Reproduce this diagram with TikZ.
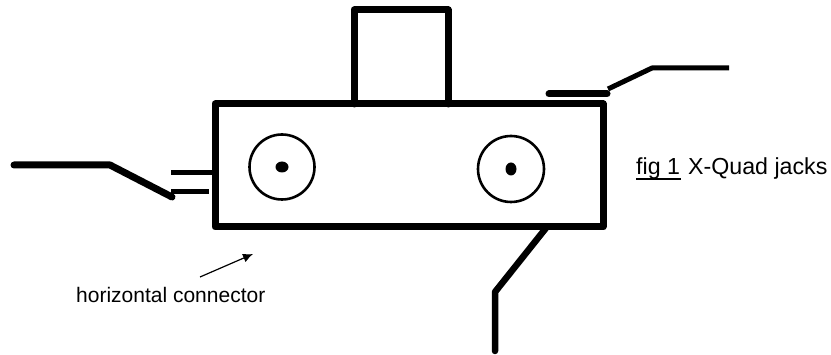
\documentclass[tikz,border=0pt]{standalone}
\usepackage{fontspec}
\setmainfont{Liberation Sans}
\usetikzlibrary{arrows.meta}
\begin{document}
\begin{tikzpicture}[x=1pt,y=-1pt,
  heavy/.style={line width=7pt,line join=round,line cap=round},
  medium/.style={line width=5pt},
  jack/.style={draw,circle,line width=2.6pt,minimum size=65pt,inner sep=0pt},
  label/.style={inner sep=0pt,anchor=base west,font=\fontsize{21pt}{24pt}\selectfont},
  figlabel/.style={label,font=\fontsize{23.2pt}{26pt}\selectfont}]
\useasboundingbox (0,0) rectangle (831,355);
% jack housing
\coordinate (housingNW) at (215,104);
\coordinate (housingSE) at (603,227);
\draw[heavy] (housingNW) rectangle (housingSE);
\draw[heavy] (354,104) |- (448,10) -- (448,104);
% jacks
\node[jack] (jackL) at (282,167) {};
\node[jack,minimum size=66pt] (jackR) at (511,169) {};
\fill (jackL.center) ellipse [x radius=6.5pt,y radius=5.5pt];
\fill (jackR.center) ellipse [x radius=5.5pt,y radius=6.5pt];
% left lead
\coordinate (ll1) at (14,165);
\coordinate (ll2) at (110,165);
\coordinate (ll3) at (172,197);
\draw[heavy] (ll1) -- (ll2) -- (ll3);
\draw[medium] (171,173) -- (212,173);
\draw[medium] (171,192) -- (209,192);
% top right lead
\draw[heavy] (549,94) -- (607,94);
\coordinate (tr1) at (608,89);
\coordinate (tr2) at (652,68);
\coordinate (tr3) at (729,68);
\draw[medium,line join=round] (tr1) -- (tr2) -- (tr3);
% bottom lead
\coordinate (bl1) at (546,228);
\coordinate (bl2) at (495,292);
\coordinate (bl3) at (495,351);
\draw[line width=6.5pt,line join=round,line cap=round] (bl1) -- (bl2) -- (bl3);
% labels
\node[label] (hc) at (76,302.5) {horizontal connector};
\coordinate (arrowEnd) at (253,254);
\coordinate (arrowStart) at (200,277);
\draw[line width=1.2pt,-{Latex[length=10pt,width=9pt]}] (arrowStart) -- (arrowEnd);
\node[figlabel] (fig) at (636,175) {\rlap{\rule[-4.7pt]{45pt}{2pt}}\makebox[52pt][l]{fig 1}X-Quad jacks};
\end{tikzpicture}
\end{document}
